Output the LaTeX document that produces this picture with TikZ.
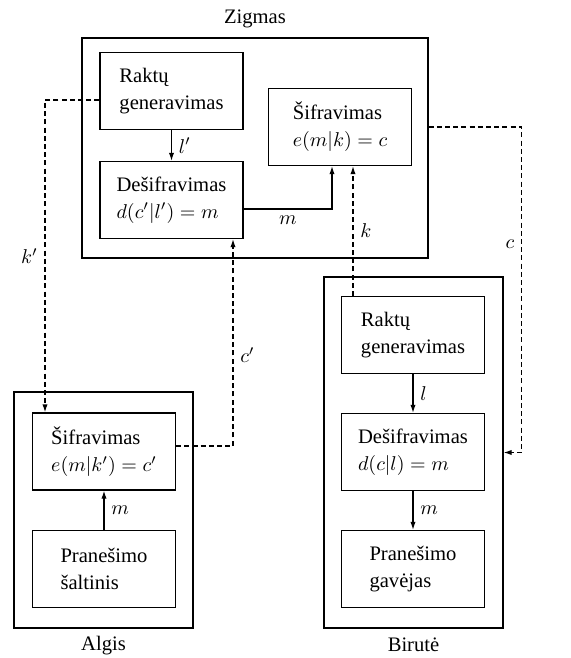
\documentclass[tikz,border=0pt]{standalone}
\usepackage{fontspec}
\setmainfont{Liberation Serif}
\usetikzlibrary{arrows.meta,positioning}
\begin{document}
\begin{tikzpicture}[x=0.5pt,y=-0.5pt,>={Latex[length=4pt,width=2.6pt]},line width=0.6pt,font=\fontsize{10.3}{13.5}\selectfont]
\tikzstyle{bx}=[draw, rectangle, align=left, minimum width=71.5pt, minimum height=38.5pt, inner sep=2pt]
\tikzstyle{fr}=[draw, rectangle, inner sep=0pt]
\tikzstyle{dl}=[dash pattern=on 2.5pt off 1.6pt]
\useasboundingbox (0,0) rectangle (571,658);

% Zigmas
\node[fr, minimum width=173pt, minimum height=110pt] (Z) at (255,148) {};
\node[above=1pt of Z] (Zn) {Zigmas};
\node[bx] (ZR) at (171.5,91) {Raktų\\generavimas};
\node[bx] (ZD) at (171.5,200) {Dešifravimas\\$d(c'|l')=m$};
\node[bx] (ZS) at (340,127) {Šifravimas\\$e(m|k)=c$};

% Algis
\node[fr, minimum width=89.5pt, minimum height=118pt] (A) at (103.5,510) {};
\node[below=0pt of A] (An) {Algis};
\node[bx] (AS) at (104,451.5) {Šifravimas\\$e(m|k')=c'$};
\node[bx] (AP) at (104,569) {Pranešimo\\šaltinis};

% Birute
\node[fr, minimum width=89.5pt, minimum height=175.5pt] (B) at (413.5,452.5) {};
\node[below=1pt of B] (Bn) {Birutė};
\node[bx] (BR) at (413,335) {Raktų\\generavimas};
\node[bx] (BD) at (413,452) {Dešifravimas\\$d(c|l)=m$};
\node[bx] (BP) at (413,569) {Pranešimo\\gavėjas};

\draw[->] (ZR) -- node[right]{$l'$} (ZD);
\draw[->] ([yshift=-4.5pt]ZD.east) -| node[pos=0.25,below]{$m$} ([xshift=-4pt]ZS.south);
\draw[->] (AP) -- node[right]{$m$} (AS);
\draw[->] (BR) -- node[right]{$l$} (BD);
\draw[->] (BD) -- node[right]{$m$} (BP);

\draw[dl,->] ([xshift=-30pt]BR.north) -- node[right]{$k$} ([xshift=-30pt]BR.north |- ZS.south);
\draw[dl,->] ([yshift=-4.5pt]ZR.west) -| node[pos=0.75,left]{$k'$} ([xshift=-29.5pt]AS.north);
\draw[dl,->] ([yshift=2.75pt]AS.east) -| node[pos=0.72,right]{$c'$} ([xshift=30.75pt]ZD.south);
\draw[dl,->] ([yshift=10.5pt]Z.east) -- ++(93,0) |- node[pos=0.18,left]{$c$} (B.east);
\end{tikzpicture}
\end{document}
